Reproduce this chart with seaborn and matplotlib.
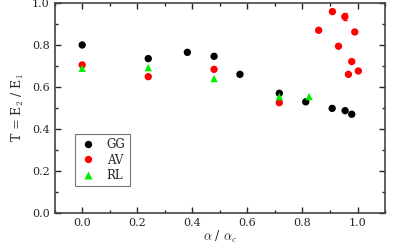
import matplotlib
matplotlib.use("Agg")
import matplotlib.pyplot as plt
import seaborn as sns
import pandas as pd
from matplotlib.ticker import MultipleLocator

# values
gg_x = [0.0, 0.24, 0.382, 0.479, 0.573, 0.716, 0.812, 0.908, 0.955, 0.979]
gg_y = [0.800, 0.735, 0.765, 0.746, 0.660, 0.570, 0.529, 0.498, 0.487, 0.470]
gg_err = [0.0, 0.0, 0.007, 0.0, 0.0, 0.0, 0.0, 0.0, 0.0, 0.0]

av_x = [0.0, 0.24, 0.479, 0.716, 0.859, 0.909, 0.931, 0.954, 0.967, 0.979, 0.99, 1.003]
av_y = [0.705, 0.649, 0.684, 0.525, 0.870, 0.959, 0.794, 0.935, 0.660, 0.721, 0.862, 0.676]
av_err = [0.0, 0.0, 0.0, 0.0, 0.0, 0.0, 0.0, 0.015, 0.0, 0.0, 0.0, 0.0]

rl_x = [0.0, 0.24, 0.479, 0.716, 0.824]
rl_y = [0.689, 0.692, 0.640, 0.554, 0.554]

df = pd.concat([
    pd.DataFrame({"x": gg_x, "y": gg_y, "set": "GG"}),
    pd.DataFrame({"x": av_x, "y": av_y, "set": "AV"}),
    pd.DataFrame({"x": rl_x, "y": rl_y, "set": "RL"}),
], ignore_index=True)

sns.set_style("ticks")
plt.rcParams["font.family"] = ["DejaVu Serif"]
plt.rcParams["mathtext.fontset"] = "cm"

colors = {"GG": "black", "AV": "#ff0000", "RL": "#00ee00"}
markers = {"GG": "o", "AV": "o", "RL": "^"}

fig = plt.figure(figsize=(3.99, 2.49), dpi=100)
ax = fig.add_axes([0.137, 0.145, 0.828, 0.843])

ax.errorbar(gg_x, gg_y, yerr=gg_err, fmt="none", ecolor="black", elinewidth=0.8, capsize=1.5)
ax.errorbar(av_x, av_y, yerr=av_err, fmt="none", ecolor="#ff0000", elinewidth=0.8, capsize=1.5)

sns.scatterplot(data=df, x="x", y="y", hue="set", style="set", palette=colors,
                markers=markers, s=28, edgecolor="none", ax=ax, zorder=3)

ax.set_xlim(-0.1, 1.1)
ax.set_ylim(0.0, 1.0)
ax.xaxis.set_major_locator(MultipleLocator(0.2))
ax.xaxis.set_minor_locator(MultipleLocator(0.1))
ax.yaxis.set_major_locator(MultipleLocator(0.2))
ax.yaxis.set_minor_locator(MultipleLocator(0.1))
ax.tick_params(which="both", direction="in", top=True, right=True, labelsize=8, width=1)
ax.tick_params(which="major", length=4)
ax.tick_params(which="minor", length=2)
for sp in ax.spines.values():
    sp.set_visible(True)
    sp.set_linewidth(1.2)
    sp.set_color("#444444")

ax.set_xlabel(r"$\alpha$ / $\alpha_c$", fontsize=9, labelpad=1)
ax.set_ylabel(r"T = E$_2$ / E$_1$", fontsize=9)

leg = ax.legend(title=None, loc="lower left", bbox_to_anchor=(0.045, 0.1), fontsize=8.5,
                frameon=True, fancybox=False, edgecolor="#555555", handletextpad=0.9,
                handlelength=1.4, borderpad=0.35, labelspacing=0.2, markerscale=1.0)
leg.get_frame().set_linewidth(0.8)

fig.savefig("out.png", dpi=100)
